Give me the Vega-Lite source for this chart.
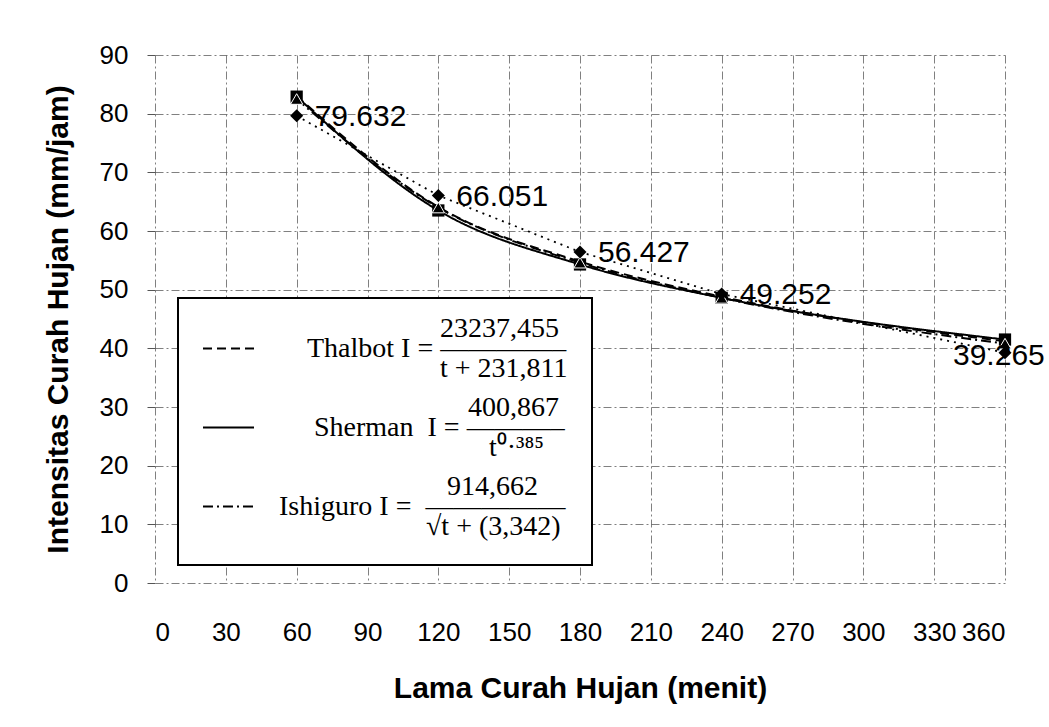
{
  "$schema": "https://vega.github.io/schema/vega-lite/v6.json",
  "width": 850,
  "height": 528,
  "autosize": {"type": "none"},
  "padding": {"left": 155, "top": 55, "right": 44, "bottom": 144},
  "background": "white",
  "config": {
    "view": {"stroke": null},
    "axis": {
      "domain": false,
      "grid": true,
      "gridColor": "#555555",
      "gridDash": [8, 3, 2, 3],
      "gridWidth": 1,
      "gridOpacity": 0.75,
      "labelFont": "Liberation Sans",
      "labelFontSize": 26,
      "labelColor": "black",
      "titleFont": "Liberation Sans",
      "titleFontSize": 30,
      "titleFontWeight": "bold",
      "titleColor": "black"
    }
  },
  "data": {
    "values": [
      {"t": 60, "I": 79.632, "model": "Observed"},
      {"t": 120, "I": 66.051, "model": "Observed"},
      {"t": 180, "I": 56.427, "model": "Observed"},
      {"t": 240, "I": 49.252, "model": "Observed"},
      {"t": 360, "I": 39.265, "model": "Observed"},
      {"t": 60, "I": 83.0, "model": "Thalbot"},
      {"t": 120, "I": 64.1, "model": "Thalbot"},
      {"t": 180, "I": 54.8, "model": "Thalbot"},
      {"t": 240, "I": 48.8, "model": "Thalbot"},
      {"t": 360, "I": 41.2, "model": "Thalbot"},
      {"t": 60, "I": 82.9, "model": "Sherman"},
      {"t": 120, "I": 63.5, "model": "Sherman"},
      {"t": 180, "I": 54.3, "model": "Sherman"},
      {"t": 240, "I": 48.6, "model": "Sherman"},
      {"t": 360, "I": 41.5, "model": "Sherman"},
      {"t": 60, "I": 82.5, "model": "Ishiguro"},
      {"t": 120, "I": 64.0, "model": "Ishiguro"},
      {"t": 180, "I": 54.6, "model": "Ishiguro"},
      {"t": 240, "I": 48.6, "model": "Ishiguro"},
      {"t": 360, "I": 40.8, "model": "Ishiguro"}
    ]
  },
  "encoding": {
    "x": {
      "field": "t",
      "type": "quantitative",
      "scale": {"domain": [0, 360], "nice": false, "zero": false},
      "axis": {
        "values": [0, 30, 60, 90, 120, 150, 180, 210, 240, 270, 300, 330, 360],
        "title": "Lama Curah Hujan (menit)",
        "ticks": false,
        "labelPadding": 36,
        "titlePadding": 28
      }
    },
    "y": {
      "field": "I",
      "type": "quantitative",
      "scale": {"domain": [0, 90], "nice": false},
      "axis": {
        "values": [0, 10, 20, 30, 40, 50, 60, 70, 80, 90],
        "title": "Intensitas Curah Hujan (mm/jam)",
        "ticks": true,
        "tickSize": 8,
        "tickColor": "#555555",
        "labelPadding": 19,
        "titlePadding": 26
      }
    }
  },
  "layer": [
    {
      "transform": [{"filter": "datum.model == 'Observed'"}],
      "mark": {"type": "line", "color": "black", "strokeDash": [2, 5], "strokeWidth": 1.8}
    },
    {
      "transform": [{"filter": "datum.model != 'Observed'"}],
      "mark": {"type": "line", "color": "black", "strokeWidth": 2, "interpolate": "monotone"},
      "encoding": {
        "strokeDash": {
          "field": "model",
          "type": "nominal",
          "scale": {"domain": ["Thalbot", "Sherman", "Ishiguro"], "range": [[9, 5], [1, 0], [10, 4, 2, 4]]},
          "legend": {
            "orient": "none",
            "legendX": 23,
            "legendY": 243,
            "title": null,
            "fillColor": "white",
            "strokeColor": "black",
            "padding": 24,
            "symbolType": "stroke",
            "symbolSize": 2601,
            "symbolStrokeWidth": 2,
            "symbolStrokeColor": "black",
            "labelFont": "Liberation Serif",
            "labelFontSize": 28,
            "labelColor": "black",
            "labelLimit": 600,
            "labelOffset": 24,
            "rowPadding": 10,
            "labelExpr": "datum.label == 'Thalbot' ? ['\u200b\u00a0\u00a0\u00a0\u00a0\u00a0\u00a0\u00a0\u00a0\u00a0\u00a0\u00a0\u00a0\u00a0\u00a0\u00a0\u00a0\u00a0\u00a0\u00a0\u00a0\u00a0\u00a0\u00a023237,455', '\u200b\u00a0\u00a0\u00a0\u00a0Thalbot I = ————–', '\u200b\u00a0\u00a0\u00a0\u00a0\u00a0\u00a0\u00a0\u00a0\u00a0\u00a0\u00a0\u00a0\u00a0\u00a0\u00a0\u00a0\u00a0\u00a0\u00a0\u00a0\u00a0\u00a0\u00a0t + 231,811'] : datum.label == 'Sherman' ? ['\u200b\u00a0\u00a0\u00a0\u00a0\u00a0\u00a0\u00a0\u00a0\u00a0\u00a0\u00a0\u00a0\u00a0\u00a0\u00a0\u00a0\u00a0\u00a0\u00a0\u00a0\u00a0\u00a0\u00a0\u00a0\u00a0\u00a0\u00a0400,867', '\u200b\u00a0\u00a0\u00a0\u00a0\u00a0Sherman\u00a0\u00a0I = ———–', '\u200b\u00a0\u00a0\u00a0\u00a0\u00a0\u00a0\u00a0\u00a0\u00a0\u00a0\u00a0\u00a0\u00a0\u00a0\u00a0\u00a0\u00a0\u00a0\u00a0\u00a0\u00a0\u00a0\u00a0\u00a0\u00a0\u00a0\u00a0\u00a0\u00a0\u00a0t⁰·³⁸⁵'] : ['\u200b\u00a0\u00a0\u00a0\u00a0\u00a0\u00a0\u00a0\u00a0\u00a0\u00a0\u00a0\u00a0\u00a0\u00a0\u00a0\u00a0\u00a0\u00a0\u00a0\u00a0\u00a0\u00a0\u00a0\u00a0914,662', 'Ishiguro I =\u00a0\u00a0—————', '\u200b\u00a0\u00a0\u00a0\u00a0\u00a0\u00a0\u00a0\u00a0\u00a0\u00a0\u00a0\u00a0\u00a0\u00a0\u00a0\u00a0\u00a0\u00a0\u00a0\u00a0\u00a0√t + (3,342)']",
            "encode": {
              "legend": {"update": {"strokeWidth": {"value": 2}}},
              "labels": {"update": {"lineHeight": {"value": 20}, "dy": {"value": -20}}}
            }
          }
        }
      }
    },
    {
      "transform": [{"filter": "datum.model == 'Sherman'"}],
      "mark": {"type": "point", "shape": "square", "filled": true, "color": "black", "size": 150, "opacity": 1}
    },
    {
      "transform": [{"filter": "datum.model == 'Ishiguro'"}],
      "mark": {"type": "point", "shape": "triangle-up", "filled": true, "fill": "black", "stroke": "white", "strokeWidth": 1, "size": 150, "opacity": 1}
    },
    {
      "transform": [{"filter": "datum.model == 'Observed'"}],
      "mark": {"type": "point", "shape": "diamond", "filled": true, "color": "black", "size": 170, "opacity": 1}
    },
    {
      "transform": [{"filter": "datum.model == 'Observed' && datum.t < 360"}],
      "mark": {"type": "text", "align": "left", "baseline": "middle", "dx": 18, "dy": 1, "font": "Liberation Sans", "fontSize": 30, "color": "black"},
      "encoding": {"text": {"field": "I", "type": "quantitative", "format": ".3f"}}
    },
    {
      "transform": [{"filter": "datum.model == 'Observed' && datum.t == 360"}],
      "mark": {"type": "text", "align": "left", "baseline": "middle", "dx": -52, "dy": 3, "font": "Liberation Sans", "fontSize": 30, "color": "black"},
      "encoding": {"text": {"field": "I", "type": "quantitative", "format": ".3f"}}
    }
  ]
}
